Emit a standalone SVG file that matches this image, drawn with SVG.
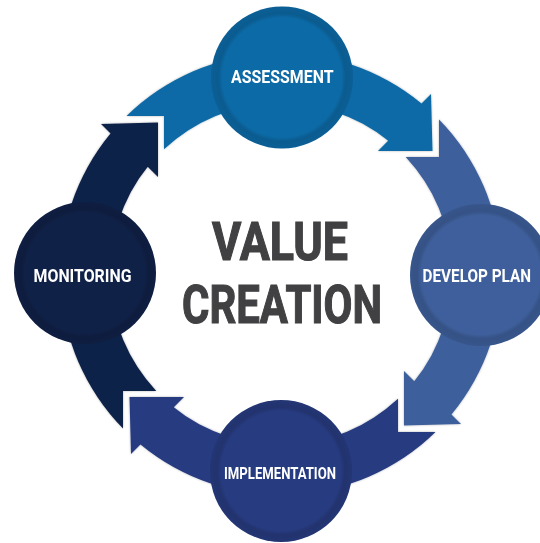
<svg xmlns="http://www.w3.org/2000/svg" width="540" height="543" viewBox="0 0 540 543">
  <style>
    .lbl { font-family: Roboto, "Liberation Sans", Arial, sans-serif; font-weight: 700; fill: #ffffff; }
    .big { font-family: Roboto, "Liberation Sans", Arial, sans-serif; font-weight: 700; fill: #414042; stroke: #414042; stroke-width: 1.2px; font-size: 54px; }
  </style>
  <defs>
    <path id="arrow" d="M126.5,116 L164,116 L164,149.3 A171,171 0 0 1 388.2,140.8 L378,151 L432.5,151 L431,94 L421.5,103.5 A221,221 0 0 0 126.5,116 Z"/>
    <radialGradient id="rim" cx="0.5" cy="0.5" r="0.5">
      <stop offset="0" stop-color="#000" stop-opacity="0"/>
      <stop offset="0.84" stop-color="#000" stop-opacity="0"/>
      <stop offset="0.9" stop-color="#000" stop-opacity="0.14"/>
      <stop offset="1" stop-color="#000" stop-opacity="0.1"/>
    </radialGradient>
    <filter id="sh" x="-10%" y="-10%" width="120%" height="120%">
      <feDropShadow dx="0" dy="0" stdDeviation="1.2" flood-color="#000" flood-opacity="0.3"/>
    </filter>
  </defs>
  <rect width="540" height="543" fill="#ffffff"/>

  <g id="connectors" filter="url(#sh)">
    <use href="#arrow" fill="#0c6aa6"/>
    <use href="#arrow" fill="#3e5f9b" transform="rotate(90 281 274)"/>
    <use href="#arrow" fill="#273b80" transform="rotate(180 281 274)"/>
    <use href="#arrow" fill="#102148" transform="rotate(270 281 274)"/>
  </g>

  <g id="assessment">
    <circle cx="282" cy="77.5" r="71" fill="#0c6aa6"/>
    <circle cx="282" cy="77.5" r="71" fill="url(#rim)"/>
    <text class="lbl" x="231" y="83.3" font-size="17.5" textLength="102.5" lengthAdjust="spacingAndGlyphs">ASSESSMENT</text>
  </g>
  <g id="develop-plan">
    <circle cx="481" cy="275" r="71" fill="#3e5f9b"/>
    <circle cx="481" cy="275" r="71" fill="url(#rim)"/>
    <text class="lbl" x="422.5" y="281.7" font-size="18" textLength="108.5" lengthAdjust="spacingAndGlyphs">DEVELOP PLAN</text>
  </g>
  <g id="implementation">
    <circle cx="281" cy="471" r="71" fill="#273b80"/>
    <circle cx="281" cy="471" r="71" fill="url(#rim)"/>
    <text class="lbl" x="224" y="479.3" font-size="17" textLength="112" lengthAdjust="spacingAndGlyphs">IMPLEMENTATION</text>
  </g>
  <g id="monitoring">
    <circle cx="85" cy="273" r="71" fill="#102148"/>
    <circle cx="85" cy="273" r="71" fill="url(#rim)"/>
    <text class="lbl" x="33.5" y="281.7" font-size="17.5" textLength="98" lengthAdjust="spacingAndGlyphs">MONITORING</text>
  </g>

  <g id="center-title">
    <text class="big" x="212" y="260" textLength="136" lengthAdjust="spacingAndGlyphs">VALUE</text>
    <text class="big" x="182" y="323.3" textLength="200" lengthAdjust="spacingAndGlyphs">CREATION</text>
  </g>
</svg>
